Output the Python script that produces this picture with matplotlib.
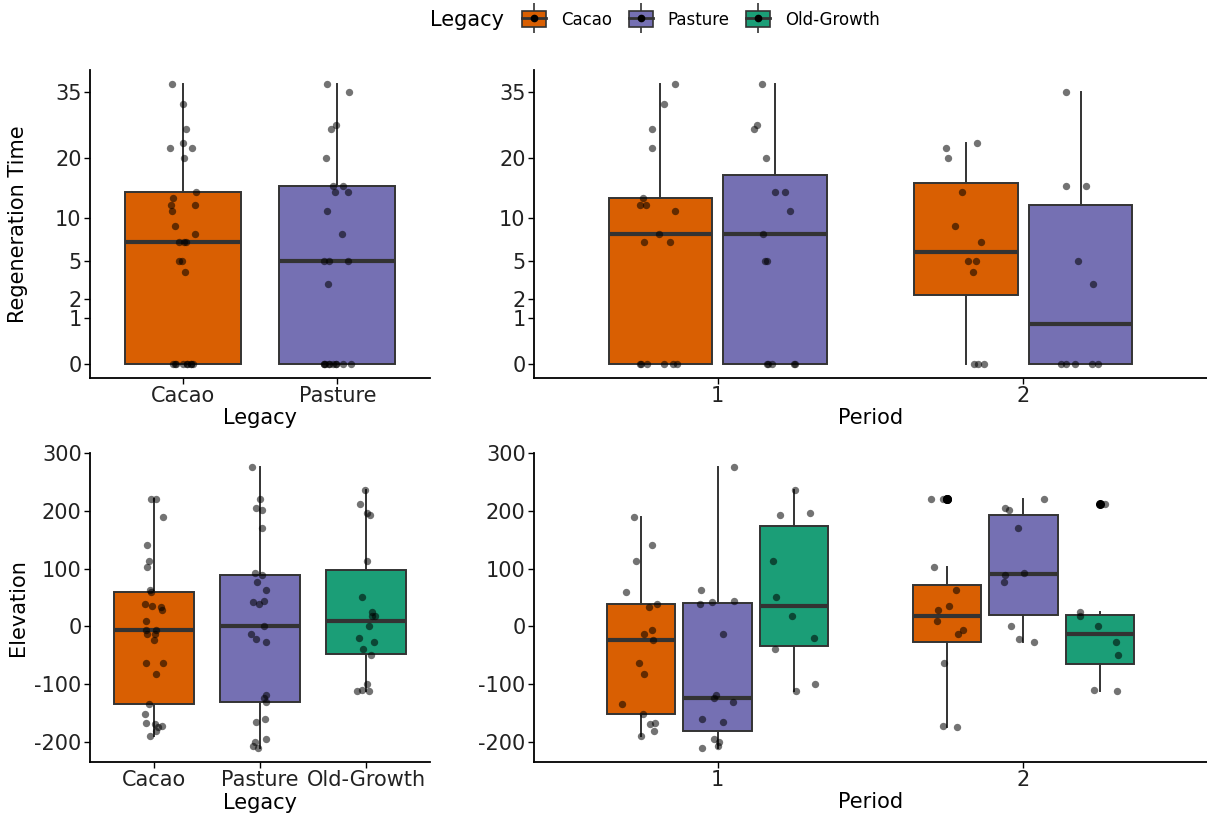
import numpy as np
import matplotlib
matplotlib.use("Agg")
import matplotlib.pyplot as plt
from matplotlib import cbook
from matplotlib.patches import Patch
from matplotlib.lines import Line2D
from matplotlib.legend_handler import HandlerTuple

legacies = ["Cacao", "Pasture", "Old-Growth"]
periods = ["1", "2"]
colors = ["#D95F02", "#7570B3", "#1B9E77"]

# regeneration time (years), one value per site
regen_cacao_p1 = [37, 32, 26, 22, 13, 12, 12, 11, 8, 7, 7, 0, 0, 0, 0, 0, 0]
regen_pasture_p1 = [37, 27, 26, 20, 14, 14, 11, 8, 5, 5, 0, 0, 0, 0, 0]
regen_cacao_p2 = [23, 22, 20, 14, 9, 7, 5, 5, 4, 0, 0, 0]
regen_pasture_p2 = [35, 15, 15, 5, 3, 0, 0, 0, 0, 0]

# elevation, same sites
elev_cacao_p1 = [190, 140, 113, 60, 39, 34, -7, -13, -23, -64, -82, -134, -152, -167, -170, -182, -190]
elev_pasture_p1 = [276, 62, 44, 42, 38, -13, -120, -124, -131, -160, -166, -196, -200, -207, -211]
elev_og_p1 = [237, 197, 193, 113, 51, 18, -21, -39, -100, -113]
elev_cacao_p2 = [221, 221, 102, 62, 35, 28, 9, -7, -14, -64, -173, -174]
elev_pasture_p2 = [221, 205, 201, 171, 92, 88, 77, 1, -22, -27]
elev_og_p2 = [212, 24, 17, 1, -28, -50, -110, -113]

regen_ticks = [0, 1, 2, 5, 10, 20, 35]
elev_ticks = [-200, -100, 0, 100, 200, 300]

EDGE = "#333333"
rng = np.random.default_rng(11)


def fwd(y):
    y = np.asarray(y, dtype=float)
    return np.sign(y) * np.sqrt(np.abs(y))


def inv(y):
    y = np.asarray(y, dtype=float)
    return np.sign(y) * y ** 2


def draw_box(ax, vals, pos, width, color, sqrt_scale=False, jit=0.08):
    vals = np.asarray(vals, dtype=float)
    if sqrt_scale:
        # stats on the sqrt scale, like ggplot does with a transformed axis
        st = cbook.boxplot_stats(fwd(vals), whis=1.5)[0]
        for k in ["med", "q1", "q3", "whislo", "whishi", "mean"]:
            st[k] = float(inv(st[k]))
        st["fliers"] = inv(st["fliers"])
    else:
        st = cbook.boxplot_stats(vals, whis=1.5)[0]
    ax.bxp([st], positions=[pos], widths=width, patch_artist=True,
           showcaps=False, showfliers=True,
           boxprops=dict(facecolor=color, edgecolor=EDGE, linewidth=1.4),
           medianprops=dict(color=EDGE, linewidth=3.0),
           whiskerprops=dict(color=EDGE, linewidth=1.4),
           flierprops=dict(marker="o", markerfacecolor="black",
                           markeredgecolor="black", markersize=5.5),
           manage_ticks=False, zorder=2)
    xs = pos + rng.uniform(-jit, jit, len(vals))
    ax.scatter(xs, vals, s=28, color="black", alpha=0.55, lw=0, zorder=3)


def style(ax):
    for s in ["top", "right"]:
        ax.spines[s].set_visible(False)
    for s in ["left", "bottom"]:
        ax.spines[s].set_linewidth(1.3)
        ax.spines[s].set_color("black")
    ax.tick_params(length=4, width=1.0, labelsize=15, colors="black",
                   labelcolor="#222222", pad=2)


W, H = 1207, 816
fig = plt.figure(figsize=(W / 100, H / 100), dpi=100)


def axes_px(l, r, t, b):
    return fig.add_axes([l / W, 1 - b / H, (r - l) / W, (b - t) / H])


ax_tl = axes_px(90, 430, 70, 378)
ax_tr = axes_px(534, 1207, 70, 378)
ax_bl = axes_px(90, 430, 453, 762)
ax_br = axes_px(534, 1207, 453, 762)

# top-left: regeneration time by legacy (periods pooled)
regen_by_legacy = [regen_cacao_p1 + regen_cacao_p2, regen_pasture_p1 + regen_pasture_p2]
for i, vals in enumerate(regen_by_legacy):
    draw_box(ax_tl, vals, i + 1, 0.75, colors[i], sqrt_scale=True, jit=0.09)

# top-right: regeneration time by period and legacy
regen_by_period = [[regen_cacao_p1, regen_pasture_p1], [regen_cacao_p2, regen_pasture_p2]]
for p, groups in enumerate(regen_by_period):
    for g, vals in enumerate(groups):
        off = (g - 0.5) * 0.375
        draw_box(ax_tr, vals, p + 1 + off, 0.375 * 0.9, colors[g], sqrt_scale=True, jit=0.07)

all_regen = np.concatenate([np.asarray(v, float) for v in regen_by_legacy])
lo, hi = fwd(all_regen.min()), fwd(all_regen.max())
pad = 0.05 * (hi - lo)
for ax in [ax_tl, ax_tr]:
    ax.set_yscale("function", functions=(fwd, inv))
    ax.set_ylim(float(inv(lo - pad)), float(inv(hi + pad)))
    ax.set_yticks(regen_ticks)
    ax.set_yticklabels([str(t) for t in regen_ticks])
    ax.minorticks_off()

# bottom-left: elevation by legacy (periods pooled)
elev_by_legacy = [elev_cacao_p1 + elev_cacao_p2, elev_pasture_p1 + elev_pasture_p2,
                  elev_og_p1 + elev_og_p2]
for i, vals in enumerate(elev_by_legacy):
    draw_box(ax_bl, vals, i + 1, 0.75, colors[i], jit=0.09)

# bottom-right: elevation by period and legacy
elev_by_period = [[elev_cacao_p1, elev_pasture_p1, elev_og_p1],
                  [elev_cacao_p2, elev_pasture_p2, elev_og_p2]]
for p, groups in enumerate(elev_by_period):
    for g, vals in enumerate(groups):
        off = (g - 1) * 0.25
        draw_box(ax_br, vals, p + 1 + off, 0.25 * 0.9, colors[g], jit=0.07)

all_elev = np.concatenate([np.asarray(v, float) for v in elev_by_legacy])
pad = 0.05 * (all_elev.max() - all_elev.min())
for ax in [ax_bl, ax_br]:
    ax.set_ylim(all_elev.min() - pad, all_elev.max() + pad)
    ax.set_yticks(elev_ticks)
    ax.set_yticklabels([str(t) for t in elev_ticks])

ax_tl.set_xlim(0.4, 2.6)
ax_tl.set_xticks([1, 2])
ax_tl.set_xticklabels(legacies[:2])
ax_bl.set_xlim(0.4, 3.6)
ax_bl.set_xticks([1, 2, 3])
ax_bl.set_xticklabels(legacies)
for ax in [ax_tr, ax_br]:
    ax.set_xlim(0.4, 2.6)
    ax.set_xticks([1, 2])
    ax.set_xticklabels(periods)

for ax in [ax_tl, ax_tr, ax_bl, ax_br]:
    style(ax)

ax_tl.set_xlabel("Legacy", fontsize=15, labelpad=1)
ax_bl.set_xlabel("Legacy", fontsize=15, labelpad=2)
ax_tr.set_xlabel("Period", fontsize=15, labelpad=1)
ax_br.set_xlabel("Period", fontsize=15, labelpad=1)
ax_tl.set_ylabel("Regeneration Time", fontsize=15)
ax_bl.set_ylabel("Elevation", fontsize=15)
ax_tl.yaxis.set_label_coords((28 - 90) / 340, 0.5)
ax_bl.yaxis.set_label_coords((28 - 90) / 340, 0.5)

# legend on top
handles = []
for c in colors:
    whisk = Line2D([], [], color=EDGE, marker="|", markersize=21,
                   markeredgewidth=1.2, linestyle="none")
    box = Patch(facecolor=c, edgecolor=EDGE, linewidth=1.2)
    med = Line2D([], [], color=EDGE, linewidth=2, marker="o", markersize=4.5,
                 markerfacecolor="black", markeredgecolor="black")
    handles.append((whisk, box, med))
fig.text(430 / W, 1 - 20 / H, "Legacy", fontsize=15, va="center", ha="left")
fig.legend(handles, legacies, handler_map={tuple: HandlerTuple(ndivide=1, pad=0)},
           loc="center left", bbox_to_anchor=(515 / W, 1 - 20 / H), ncol=3,
           frameon=False, fontsize=12, handlelength=1.45, handleheight=1.1,
           columnspacing=1.0, handletextpad=0.9, borderaxespad=0)

fig.savefig("out.png", dpi=100)
